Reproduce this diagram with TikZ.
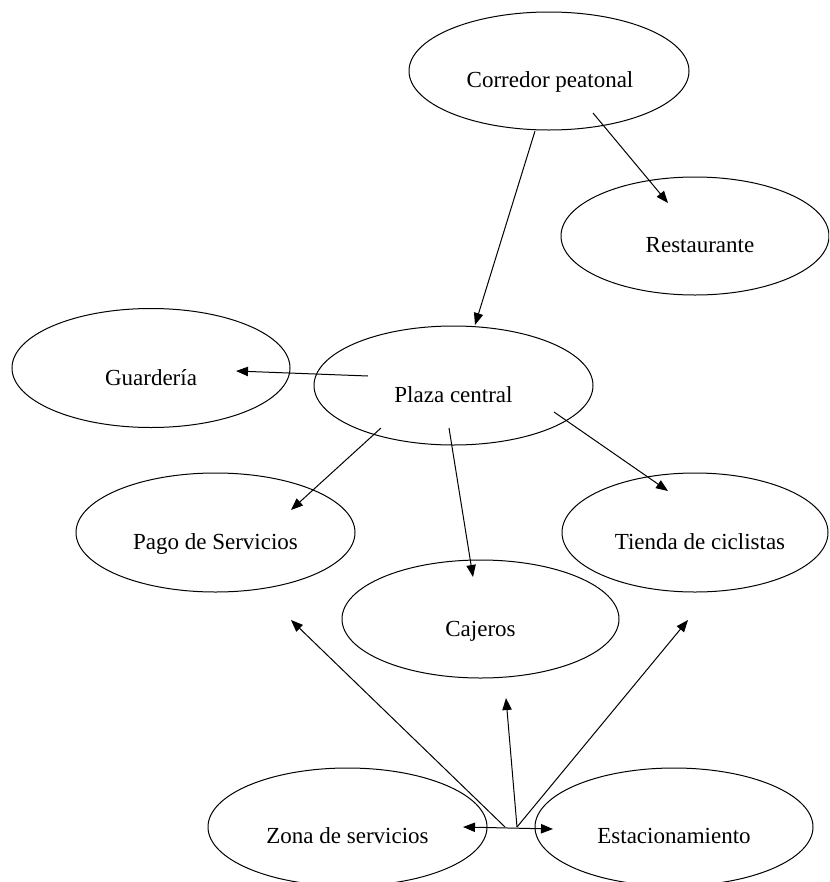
\documentclass[tikz,border=0pt]{standalone}
\usepackage{fontspec}
\setmainfont{Liberation Serif}
\usetikzlibrary{shapes.geometric,arrows.meta,calc}
\begin{document}
\begin{tikzpicture}[x=0.75pt,y=-0.75pt,
  oval/.style 2 args={ellipse, draw, line width=0.75pt, inner sep=0pt,
    minimum width={#1*0.75pt}, minimum height={#2*0.75pt}},
  lbl/.style={anchor=base, inner sep=0pt, font=\fontsize{17.25}{20}\selectfont},
  arr/.style={line width=0.75pt, -{Triangle[length=9pt,width=7pt]}},
  arrtwo/.style={line width=0.75pt, {Triangle[length=9pt,width=7pt]}-{Triangle[length=9pt,width=7pt]}}]
\useasboundingbox (0,0) rectangle (829,882);
\clip (0,0) rectangle (829,882);
\fill[white] (0,0) rectangle (829,882);

% ellipses
\node[oval={280}{118}] (corr) at (549,71) {};
\node[oval={268}{118}] (rest) at (695,236) {};
\node[oval={278}{119}] (guard) at (151,368) {};
\node[oval={279}{119}] (plaza) at (453.5,385.5) {};
\node[oval={279}{119}] (pago) at (215.5,532.5) {};
\node[oval={266}{119}] (tienda) at (695,532.5) {};
\node[oval={277}{118}] (caj) at (480.5,619) {};
\node[oval={279}{118}] (zona) at (347.5,827) {};
\node[oval={278}{118}] (estac) at (674,827) {};

% labels
\path (corr.center) ++(1,16.5) node[lbl] (corrT) {Corredor peatonal};
\path (rest.center) ++(5,16.5) node[lbl] (restT) {Restaurante};
\path (guard.center) ++(0,17) node[lbl] (guardT) {Guardería};
\path (plaza.center) ++(0,16.5) node[lbl] (plazaT) {Plaza central};
\path (pago.center) ++(0,16.5) node[lbl] (pagoT) {Pago de Servicios};
\path (tienda.center) ++(5,16.5) node[lbl] (tiendaT) {Tienda de ciclistas};
\path (caj.center) ++(0,17) node[lbl] (cajT) {Cajeros};
\path (zona.center) ++(0,16) node[lbl] (zonaT) {Zona de servicios};
\path (estac.center) ++(0,16) node[lbl] (estacT) {Estacionamiento};

% connectors
\draw[arr] ($(corr)+(44,42)$) -- ($(rest)+(-27,-33)$);
\draw[arr] ($(corr)+(-14,60)$) -- ($(plaza)+(21.5,-60.5)$);
\draw[arr] ($(plaza)+(-85.5,-9.5)$) -- ($(guard)+(85,3)$);
\draw[arr] ($(plaza)+(-72.5,42.5)$) -- ($(pago)+(75.5,-22.5)$);
\draw[arr] ($(plaza)+(-4.5,42.5)$) -- ($(caj)+(-7.5,-42)$);
\draw[arr] ($(plaza)+(100.5,26.5)$) -- ($(tienda)+(-27,-41.5)$);

\coordinate (hubL) at (505,827);
\coordinate (hubR) at (517,827);
\draw[arrtwo] ($(zona)+(115.5,0)$) -- ($(estac)+(-121,2)$);
\draw[arr] (hubL) -- ($(pago)+(75.5,87.5)$);
\draw[arr] (hubR) -- ($(caj)+(25.5,79)$);
\draw[arr] (hubR) -- ($(tienda)+(-7,87.5)$);
\end{tikzpicture}
\end{document}
